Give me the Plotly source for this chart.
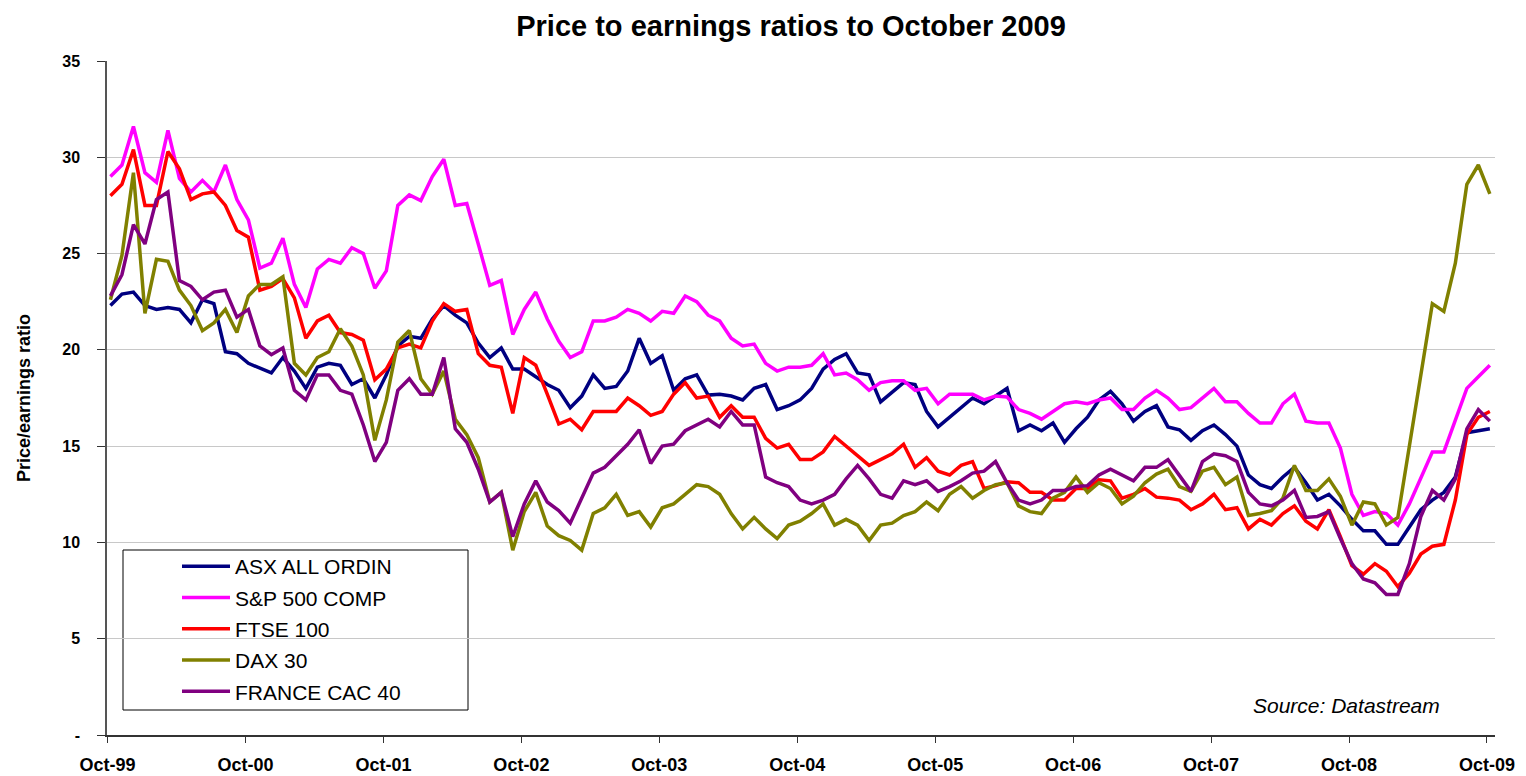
import plotly.graph_objects as go

# ---- data (monthly Oct-99 .. Oct-09) ----
tick_labels = ["Oct-99", "Oct-00", "Oct-01", "Oct-02", "Oct-03", "Oct-04",
               "Oct-05", "Oct-06", "Oct-07", "Oct-08", "Oct-09"]

asx = [22.3, 22.9, 23.0, 22.3, 22.1, 22.2, 22.1, 21.4, 22.6, 22.4, 19.9, 19.8, 19.3,
       19.05, 18.8, 19.6, 18.9, 18.0, 19.1, 19.3, 19.2, 18.2, 18.5, 17.5, 18.7, 20.2,
       20.7, 20.6, 21.6, 22.3, 21.8, 21.4, 20.35, 19.6, 20.1, 19.0, 19.0, 18.6, 18.2,
       17.9, 17.0, 17.6, 18.7, 18.0, 18.1, 18.9, 20.6, 19.3, 19.7, 17.9, 18.5, 18.7,
       17.65, 17.7, 17.6, 17.4, 18.0, 18.2, 16.9, 17.1, 17.4, 18.0, 19.0, 19.5, 19.8,
       18.8, 18.7, 17.3, 17.8, 18.3, 18.2, 16.8, 16.0, 16.5, 17.0, 17.5, 17.2, 17.6,
       18.0, 15.8, 16.1, 15.8, 16.2, 15.2, 15.9, 16.5, 17.4, 17.85, 17.2, 16.3, 16.8,
       17.1, 16.0, 15.85, 15.3, 15.8, 16.1, 15.6, 15.0, 13.5, 13.0, 12.8, 13.4, 13.9,
       13.1, 12.2, 12.5, 11.9, 11.2, 10.6, 10.6, 9.9, 9.9, 10.8, 11.7, 12.2, 12.6,
       13.4, 15.7, 15.8, 15.9]

sp500 = [29.0, 29.6, 31.6, 29.2, 28.7, 31.4, 28.9, 28.2, 28.8, 28.2, 29.6, 27.8, 26.75,
         24.25, 24.5, 25.8, 23.4, 22.2, 24.2, 24.7, 24.5, 25.3, 25.0, 23.2, 24.1, 27.5,
         28.05, 27.75, 29.0, 29.9, 27.5, 27.6, 25.5, 23.35, 23.6, 20.8, 22.1, 23.0, 21.6,
         20.45, 19.6, 19.9, 21.5, 21.5, 21.7, 22.1, 21.9, 21.5, 22.0, 21.9, 22.8, 22.5,
         21.8, 21.5, 20.6, 20.2, 20.3, 19.3, 18.9, 19.1, 19.1, 19.2, 19.8, 18.7, 18.8,
         18.45, 17.9, 18.3, 18.4, 18.4, 17.9, 18.0, 17.2, 17.7, 17.7, 17.7, 17.4, 17.6,
         17.55, 16.9, 16.7, 16.4, 16.8, 17.2, 17.3, 17.2, 17.4, 17.5, 16.9, 16.9, 17.5,
         17.9, 17.5, 16.9, 17.0, 17.5, 18.0, 17.3, 17.3, 16.7, 16.2, 16.2, 17.2, 17.7,
         16.3, 16.2, 16.2, 14.9, 12.5, 11.4, 11.6, 11.5, 10.9, 12.0, 13.3, 14.7, 14.7,
         16.4, 18.0, 18.6, 19.2]

ftse = [28.0, 28.6, 30.4, 27.5, 27.5, 30.3, 29.4, 27.8, 28.1, 28.2, 27.5, 26.2, 25.85,
        23.1, 23.3, 23.7, 22.7, 20.6, 21.5, 21.8, 20.9, 20.8, 20.5, 18.45, 19.0, 20.1,
        20.3, 20.1, 21.5, 22.4, 22.0, 22.1, 19.8, 19.2, 19.1, 16.7, 19.6, 19.2, 17.7,
        16.15, 16.4, 15.85, 16.8, 16.8, 16.8, 17.5, 17.1, 16.6, 16.8, 17.7, 18.3, 17.5,
        17.6, 16.5, 17.1, 16.5, 16.5, 15.4, 14.9, 15.1, 14.3, 14.3, 14.7, 15.5, 15.0,
        14.45, 14.0, 14.3, 14.6, 15.1, 13.9, 14.4, 13.7, 13.5, 14.0, 14.2, 12.8, 12.95,
        13.15, 13.1, 12.6, 12.6, 12.2, 12.2, 12.8, 12.8, 13.25, 13.2, 12.3, 12.5, 12.8,
        12.35, 12.3, 12.2, 11.7, 12.0, 12.5, 11.7, 11.8, 10.7, 11.2, 10.9, 11.5, 11.9,
        11.1, 10.7, 11.7, 10.3, 8.8, 8.35, 8.9, 8.5, 7.7, 8.4, 9.4, 9.8, 9.9,
        12.2, 15.6, 16.5, 16.8]

dax = [22.6, 24.9, 29.2, 21.9, 24.7, 24.6, 23.1, 22.3, 21.0, 21.4, 22.1, 20.9, 22.8,
       23.4, 23.4, 23.8, 19.3, 18.7, 19.6, 19.9, 21.1, 20.2, 18.7, 15.3, 17.4, 20.4,
       21.0, 18.5, 17.7, 18.9, 16.4, 15.6, 14.4, 12.1, 12.6, 9.6, 11.6, 12.6, 10.85,
       10.35, 10.1, 9.6, 11.5, 11.8, 12.5, 11.4, 11.6, 10.8, 11.8, 12.0, 12.5, 13.0,
       12.9, 12.5, 11.5, 10.7, 11.3, 10.7, 10.2, 10.9, 11.1, 11.5, 12.0, 10.9, 11.2,
       10.9, 10.1, 10.9, 11.0, 11.4, 11.6, 12.1, 11.65, 12.5, 12.9, 12.3, 12.7, 13.0,
       13.1, 11.9, 11.6, 11.5, 12.3, 12.6, 13.4, 12.6, 13.1, 12.8, 12.0, 12.4, 13.1,
       13.55, 13.8, 12.9, 12.65, 13.7, 13.9, 13.0, 13.4, 11.4, 11.5, 11.65, 12.3, 14.0,
       12.7, 12.7, 13.3, 12.4, 10.9, 12.1, 12.0, 10.9, 11.3, 15.0, 18.7, 22.4, 22.0,
       24.5, 28.6, 29.6, 28.1]

cac = [22.8, 23.9, 26.5, 25.5, 27.8, 28.2, 23.6, 23.3, 22.6, 23.0, 23.1, 21.7, 22.1,
       20.2, 19.75, 20.1, 17.9, 17.4, 18.7, 18.7, 17.9, 17.7, 16.1, 14.2, 15.2, 17.9,
       18.5, 17.7, 17.7, 19.6, 15.9, 15.2, 13.8, 12.1, 12.6, 10.3, 12.0, 13.2, 12.1,
       11.65, 11.0, 12.3, 13.6, 13.9, 14.5, 15.1, 15.85, 14.1, 15.0, 15.1, 15.8, 16.1,
       16.4, 16.0, 16.8, 16.1, 16.1, 13.4, 13.1, 12.9, 12.2, 12.0, 12.2, 12.5, 13.3,
       14.0, 13.3, 12.5, 12.3, 13.2, 13.0, 13.2, 12.65, 12.9, 13.2, 13.6, 13.7, 14.2,
       13.1, 12.2, 12.0, 12.2, 12.7, 12.7, 12.9, 12.95, 13.5, 13.8, 13.5, 13.2, 13.9,
       13.9, 14.3, 13.5, 12.65, 14.2, 14.6, 14.5, 14.2, 12.6, 12.0, 11.9, 12.2, 12.7,
       11.3, 11.35, 11.6, 10.2, 8.9, 8.1, 7.9, 7.3, 7.3, 8.9, 11.35, 12.7, 12.2,
       13.3, 15.9, 16.9, 16.3]

series = [
    ("ASX ALL ORDIN", asx, "#000080"),
    ("S&P 500 COMP", sp500, "#FF00FF"),
    ("FTSE 100", ftse, "#FF0000"),
    ("DAX 30", dax, "#808000"),
    ("FRANCE CAC 40", cac, "#800080"),
]

y_ticks = [0, 5, 10, 15, 20, 25, 30, 35]
y_tick_text = ["-", "5", "10", "15", "20", "25", "30", "35"]

months = list(range(len(asx)))
x_tick_pos = [12 * k - 0.25 for k in range(len(tick_labels))]

FONT = "Liberation Sans, Arial, sans-serif"

fig = go.Figure()
for name, vals, color in series:
    fig.add_trace(go.Scatter(
        x=months, y=vals, mode="lines", name=name, legendgroup=name,
        line=dict(color=color, width=3.5),
    ))

# the page body has an 8px margin, so the figure is drawn 8px right/down
OFF = 8
FIG_W, FIG_H = 1526 - OFF, 776 - OFF
# plot area in screen pixels: x 107..1495, y 61..735
L, R, T, B = 107, 1495, 61, 735
W, H = R - L, B - T

def px_x(p):
    return (p - L) / W

def px_y(p):
    return (B - p) / H

fig.update_layout(
    width=FIG_W, height=FIG_H, autosize=False,
    margin=dict(l=L - OFF, r=FIG_W - (R - OFF), t=T - OFF, b=FIG_H - (B - OFF),
                autoexpand=False),
    paper_bgcolor="white", plot_bgcolor="white",
    font=dict(family=FONT, color="black"),
    title=dict(
        text="Price to earnings ratios to October 2009",
        font=dict(family=FONT, size=29, color="black", weight="bold"),
        x=(791 - OFF) / FIG_W, xanchor="center", xref="container",
        y=1 - 18 / FIG_H, yanchor="middle", yref="container",
    ),
    xaxis=dict(
        range=[-0.3, 120.45], tickmode="array", tickvals=x_tick_pos,
        ticktext=tick_labels, ticks="outside", ticklen=6, tickwidth=1,
        tickcolor="#333333", showline=True, linecolor="#333333", linewidth=2,
        showgrid=False, zeroline=False, ticklabelstandoff=6, automargin=False,
        tickfont=dict(family=FONT, size=18, color="black", weight="bold"),
    ),
    yaxis=dict(
        range=[0, 35], tickmode="array", tickvals=y_ticks, ticktext=y_tick_text,
        ticks="outside", ticklen=8, tickwidth=1, tickcolor="#333333",
        showline=True, linecolor="#555555", linewidth=1.5,
        showgrid=True, gridcolor="#c8c8c8", gridwidth=1, zeroline=False,
        ticklabelstandoff=14, automargin=False,
        tickfont=dict(family=FONT, size=16, color="black", weight="bold"),
        title=dict(text="Price/earnings ratio", standoff=27,
                   font=dict(family=FONT, size=18, color="black", weight="bold")),
    ),
    showlegend=True,
    legend=dict(
        x=px_x(177), y=px_y(546), xanchor="left", yanchor="top",
        bgcolor="rgba(0,0,0,0)", borderwidth=0,
        font=dict(family=FONT, size=21, color="black"),
        tracegroupgap=1, itemwidth=48, itemclick=False,
    ),
    shapes=[dict(
        type="rect", xref="paper", yref="paper",
        x0=px_x(123), x1=px_x(468), y0=px_y(710), y1=px_y(550),
        line=dict(color="black", width=1), fillcolor="white", layer="below",
    )],
    annotations=[dict(
        text="Source: Datastream", xref="paper", yref="paper",
        x=px_x(1442), y=px_y(705), xanchor="right", yanchor="middle",
        showarrow=False,
        font=dict(family=FONT, size=21, color="black", style="italic"),
    )],
)

fig.write_html("out.html")
